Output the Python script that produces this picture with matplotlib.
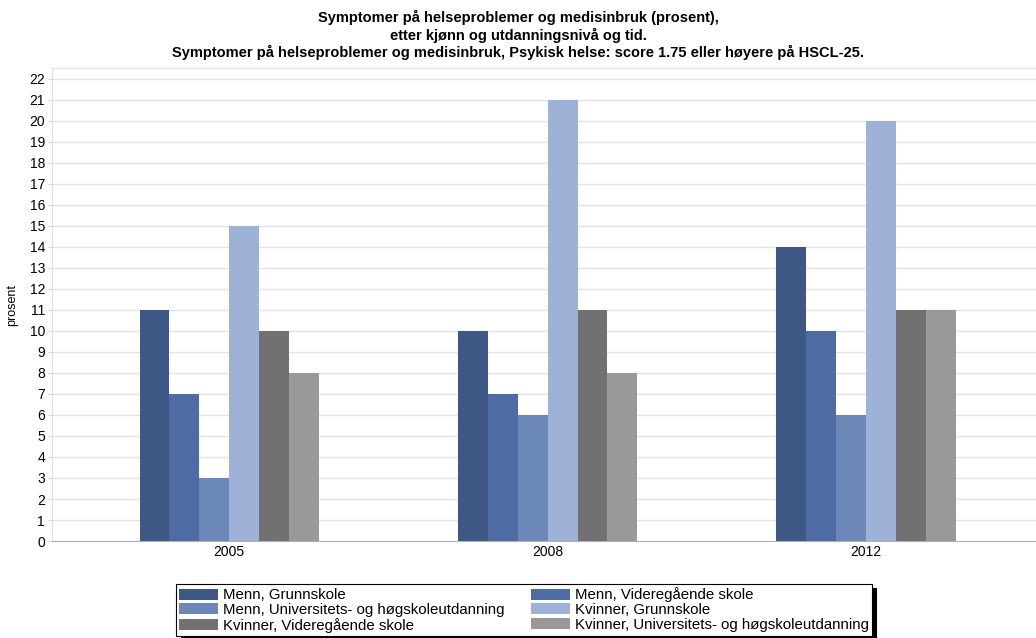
import numpy as np
import matplotlib.pyplot as plt

plt.rcParams['font.family'] = ['Liberation Sans', 'DejaVu Sans']

years = ['2005', '2008', '2012']
series = ['Menn, Grunnskole',
          'Menn, Videregående skole',
          'Menn, Universitets- og høgskoleutdanning',
          'Kvinner, Grunnskole',
          'Kvinner, Videregående skole',
          'Kvinner, Universitets- og høgskoleutdanning']
values = [[11, 10, 14],
          [7, 7, 10],
          [3, 6, 6],
          [15, 21, 20],
          [10, 11, 11],
          [8, 8, 11]]
colors = ['#3f5785', '#4e6ba3', '#6c88b8', '#9eb1d6', '#717171', '#999999']

fig = plt.figure(figsize=(10.36, 6.38), dpi=100)
ax = fig.add_axes([0.0502, 0.152, 0.97, 0.741])

x = np.arange(len(years))
width = 0.094
bars = []
for i, (name, vals) in enumerate(zip(series, values)):
    offset = (i - 2.5)*width
    b = ax.bar(x + offset, vals, width, color=colors[i], label=name, zorder=3)
    bars.append(b)

ax.set_xlim(-0.557, 2.6)
ax.set_ylim(0, 22.5)
ax.set_yticks(np.arange(0, 23))
ax.set_xticks(x)
ax.set_xticklabels(years)
ax.grid(axis='y', color='#e3e3e3', linewidth=1, zorder=0)
ax.tick_params(axis='y', labelsize=10, length=3, color='#d0d0d0', pad=2)
ax.tick_params(axis='x', labelsize=10, length=0, pad=3)
for side in ['left', 'top']:
    ax.spines[side].set_color('#e0e0e0')
ax.spines['bottom'].set_color('#b0b0b0')
ax.spines['right'].set_visible(False)
ax.set_ylabel('prosent', fontsize=9, labelpad=8)

fig.text(0.5, 0.984, 'Symptomer på helseproblemer og medisinbruk (prosent),\n'
         'etter kjønn og utdanningsnivå og tid.\n'
         'Symptomer på helseproblemer og medisinbruk, Psykisk helse: score 1.75 eller høyere på HSCL-25.',
         ha='center', va='top', fontsize=10.5, fontweight='bold', linespacing=1.2)

# legend filled row by row
order = [0, 2, 4, 1, 3, 5]
leg = fig.legend([bars[i] for i in order], [series[i] for i in order],
                 ncol=2, loc='lower center', bbox_to_anchor=(0.506, 0.0),
                 fontsize=10.8, frameon=True, fancybox=False,
                 edgecolor='black', handlelength=2.6, handleheight=0.75,
                 labelspacing=0.05, columnspacing=1.8, handletextpad=0.3,
                 borderpad=0.2, borderaxespad=0.15,
                 shadow={'ox': 3, 'oy': -3, 'color': 'black', 'alpha': 1})
leg.get_frame().set_linewidth(0.8)

fig.savefig('out.png', dpi=100)
